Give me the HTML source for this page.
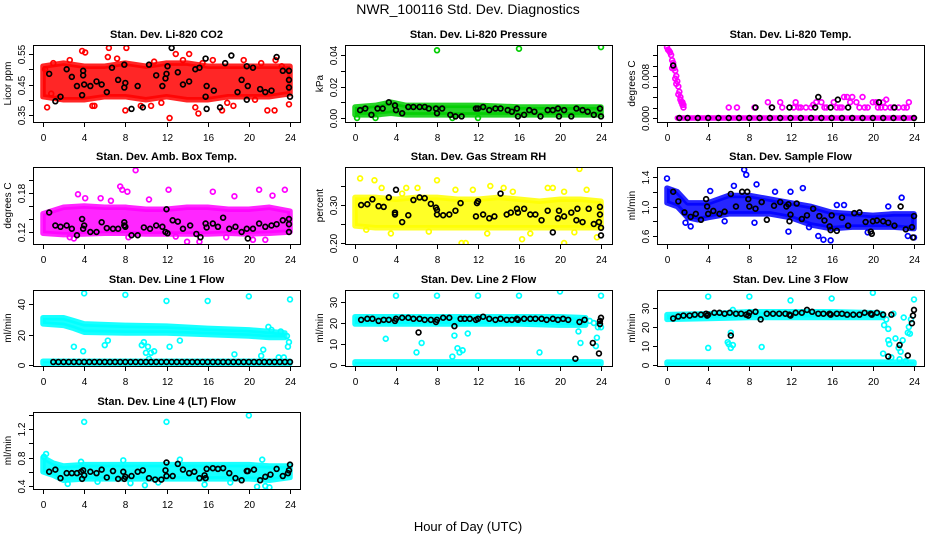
<!DOCTYPE html>
<html><head><meta charset="utf-8"><style>
body{margin:0;background:#fff}
svg{display:block;font-family:"Liberation Sans",sans-serif}
</style></head><body>
<svg id="chart" width="936" height="540" viewBox="0 0 936 540">
<text x="468" y="14" text-anchor="middle" font-size="14">NWR_100116  Std. Dev. Diagnostics</text>
<text x="468" y="531" text-anchor="middle" font-size="13">Hour of Day (UTC)</text>
</svg>
<script>
// ---- data arrays ----
const xTickValues=[0,4,8,12,16,20,24];
// CO2
const co2BandX=[0,2,4,6,8,10,12,14,16,18,20,22,24];
const co2BandLo=[0.41,0.40,0.40,0.41,0.41,0.40,0.41,0.40,0.40,0.41,0.41,0.41,0.42];
const co2BandHi=[0.51,0.52,0.51,0.51,0.52,0.51,0.52,0.52,0.51,0.51,0.51,0.51,0.51];
const co2Pts=[[0.4,0.375],[3.8,0.56],[4.1,0.555],[6.4,0.57],[6.3,0.54],[8.1,0.57],[8,0.365],[10.5,0.38],[12.3,0.34],[14.2,0.55],[15.1,0.355],[14.8,0.375],[17.4,0.365],[20.6,0.40],[21.8,0.365],[22.5,0.365],[22.6,0.53],[23.9,0.385],[2.6,0.53],[1,0.52],[5,0.38],[9.5,0.38],[16.5,0.53],[19.5,0.53],[12.9,0.55],[4.8,0.38],[0.2,0.5],[18.5,0.38],[11.5,0.39],[0.8,0.42],[1.5,0.405],[7.2,0.535],[10.8,0.525],[13.6,0.53],[15.5,0.52],[17.9,0.39],[21.2,0.52],[23.2,0.51]];
const co2Blk=[[0.6,0.485],[1.2,0.395],[1.7,0.41],[2.3,0.50],[2.8,0.475],[3.3,0.445],[3.8,0.415],[3.9,0.48],[3.9,0.495],[4,0.45],[4.6,0.445],[5.2,0.46],[5.7,0.45],[6.2,0.425],[6.7,0.505],[7.3,0.465],[7.9,0.515],[7.9,0.44],[8,0.455],[8.6,0.37],[9.2,0.445],[9.7,0.375],[10.3,0.515],[11,0.48],[11.6,0.445],[11.9,0.47],[12,0.485],[12.1,0.51],[12.5,0.57],[13.1,0.49],[13.6,0.45],[14.2,0.46],[14.8,0.5],[15.2,0.505],[15.8,0.535],[15.8,0.41],[15.9,0.445],[15.9,0.37],[16.6,0.43],[17.2,0.375],[17.7,0.52],[18.3,0.545],[18.9,0.425],[19.3,0.465],[19.8,0.40],[19.8,0.51],[19.9,0.445],[20.4,0.505],[21.1,0.435],[21.6,0.425],[22.2,0.43],[22.7,0.54],[23.3,0.495],[23.9,0.495],[23.9,0.465],[23.9,0.44],[24,0.41]];
// Pressure
const presBandX=[0,2,3.5,5,8,12,16,20,24];
const presBandLo=[0.002,0.002,0.003,0.002,0.002,0.002,0.002,0.002,0.002];
const presBandHi=[0.007,0.008,0.010,0.008,0.008,0.008,0.007,0.007,0.007];
const presPts=[[8,0.043],[16,0.044],[24,0.045],[0.2,0.0],[2,0.0],[9.5,0.0],[12,0.0]];
const presBlk=[[0.5,0.005],[1,0.006],[1.6,0.002],[2.2,0.006],[2.7,0.006],[3.3,0.010],[3.9,0.008],[4,0.005],[4.6,0.003],[5.2,0.007],[5.7,0.007],[6.3,0.007],[6.8,0.007],[7.2,0.006],[7.9,0.006],[8,0.003],[8.5,0.006],[9.3,0.002],[9.8,0.001],[10.4,0.001],[11.8,0.006],[12,0.006],[12.5,0.007],[13.1,0.005],[13.7,0.006],[14.2,0.006],[14.9,0.005],[15.3,0.004],[15.8,0.006],[15.9,0.001],[16.5,0.002],[17,0.005],[17.5,0.004],[18.1,0.001],[18.8,0.005],[19.3,0.005],[19.8,0.006],[19.9,0.001],[20.4,0.005],[21.1,0.001],[21.6,0.006],[22.2,0.005],[22.7,0.004],[23.3,0.002],[23.9,0.006],[24,0.001]];
// Li-820 Temp
const tempBandX=[1,24];
const tempBandLo=[0,0];
const tempBandHi=[0,0];
const tempPts=[[0,0.0135],[0.1,0.013],[0.2,0.0128],[0.3,0.0125],[0.4,0.012],[0.5,0.011],[0.6,0.0105],[0.7,0.0095],[0.8,0.009],[0.9,0.008],[1,0.007],[1.1,0.006],[1.2,0.005],[1.3,0.004],[1.4,0.003],[1.5,0.0025],[1.6,0.002],[1.1,0.0045],[0.8,0.0075],[1.5,0.003],[1.6,0.0025],[0.5,0.0095],[0.9,0.0065],[1.3,0.0035],[6,0.002],[6.8,0.002],[8.5,0.002],[9.8,0.003],[10.2,0.002],[11,0.003],[12.5,0.003],[12.3,0.002],[13,0.002],[14,0.002],[14.5,0.003],[15,0.003],[15.5,0.002],[16.2,0.003],[17.2,0.004],[17.5,0.004],[17.8,0.003],[18,0.004],[18.4,0.003],[19,0.004],[19.5,0.002],[20,0.003],[20.3,0.003],[21,0.003],[21.3,0.0035],[22,0.002],[23,0.002],[23.5,0.003],[13.5,0.002],[16.8,0.002],[18.7,0.002],[20.8,0.002],[21.7,0.002],[23.3,0.002],[14.2,0.0025],[15.3,0.002],[16.5,0.002],[17,0.002],[19.2,0.002],[20.5,0.002],[21.2,0.002],[22.5,0.002],[12.8,0.002],[11.2,0.002]];
const tempBlk=[[0.6,0.010],[8.6,0.002],[10.2,0.002],[11.9,0.002],[14.4,0.002],[14.7,0.004],[15.9,0.002],[16.6,0.0035],[17.6,0.002],[20.6,0.003],[22.1,0.002],[1.2,0],[2,0],[3,0],[4,0],[5,0],[6,0],[7,0],[8,0],[9,0],[10,0],[11,0],[12,0],[13,0],[14,0],[15,0],[16,0],[17,0],[18,0],[19,0],[20,0],[21,0],[22,0],[23,0],[24,0]];
// Amb box temp
const ambBandX=[0,2,4,6,8,10,12,14,16,18,20,22,24];
const ambBandLo=[0.118,0.116,0.117,0.118,0.118,0.117,0.117,0.117,0.117,0.118,0.117,0.118,0.12];
const ambBandHi=[0.148,0.158,0.16,0.158,0.158,0.155,0.155,0.158,0.158,0.155,0.155,0.158,0.152];
const ambPts=[[9,0.215],[7.5,0.19],[7.7,0.185],[21,0.185],[23.5,0.185],[12.2,0.185],[14,0.105],[15.2,0.105],[3,0.11],[2.6,0.112],[8.2,0.182],[16.5,0.182],[18.6,0.175],[20.4,0.108],[21.6,0.108],[12.9,0.113],[4.1,0.172],[3.4,0.178],[22.3,0.176],[10.3,0.17],[5.6,0.172],[6.6,0.168],[8.3,0.112],[17.8,0.112]];
const ambBlk=[[0.6,0.15],[1.2,0.13],[1.7,0.128],[2.3,0.13],[2.8,0.125],[3.3,0.115],[3.8,0.14],[3.9,0.125],[4,0.13],[4.6,0.12],[5.2,0.12],[5.7,0.135],[6.2,0.126],[6.8,0.125],[7.3,0.125],[7.9,0.135],[7.9,0.13],[8,0.128],[8.6,0.115],[9.2,0.115],[9.8,0.127],[10.4,0.125],[11,0.13],[11.6,0.128],[11.9,0.12],[12,0.155],[12.1,0.118],[12.6,0.138],[13.1,0.136],[13.6,0.125],[14.3,0.13],[14.9,0.117],[15.3,0.112],[15.8,0.133],[15.9,0.127],[16.5,0.133],[17.0,0.128],[17.5,0.142],[18.1,0.125],[18.7,0.128],[19.3,0.12],[19.8,0.125],[19.9,0.11],[20.4,0.125],[21.0,0.133],[21.6,0.128],[22.2,0.13],[22.7,0.132],[23.3,0.138],[23.9,0.14],[23.9,0.132],[23.9,0.12]];
// Gas stream RH
const rhBandX=[0,2,4,6,8,10,12,14,16,18,20,22,24];
const rhBandLo=[0.245,0.24,0.24,0.24,0.24,0.24,0.24,0.24,0.24,0.24,0.24,0.24,0.24];
const rhBandHi=[0.32,0.32,0.315,0.32,0.32,0.315,0.315,0.32,0.315,0.31,0.315,0.315,0.31];
const rhPts=[[0.5,0.37],[1.9,0.365],[1.1,0.235],[2.6,0.345],[8,0.365],[6.1,0.345],[21.9,0.395],[18.8,0.345],[19.3,0.345],[20.4,0.335],[22.6,0.34],[10.4,0.2],[20.4,0.2],[10.8,0.2],[16.3,0.21],[5,0.345],[14.5,0.345],[13.2,0.35],[23.6,0.215],[3.5,0.225],[7.2,0.23],[12.9,0.225],[17.1,0.225],[21.4,0.228],[9.8,0.34],[11.5,0.34],[15.4,0.335],[4.6,0.33]];
const rhBlk=[[0.6,0.3],[1.2,0.302],[1.7,0.315],[2.3,0.297],[2.8,0.295],[3.3,0.32],[3.9,0.28],[3.9,0.275],[4,0.34],[4.6,0.255],[5.2,0.273],[5.7,0.313],[6.3,0.32],[6.8,0.318],[7.4,0.303],[7.9,0.293],[8,0.287],[8,0.275],[8.6,0.273],[9.2,0.275],[9.8,0.285],[10.3,0.305],[11.8,0.27],[11.9,0.305],[12,0.31],[12.5,0.275],[13.1,0.265],[13.6,0.27],[14.2,0.33],[14.8,0.275],[15.2,0.28],[15.8,0.29],[15.9,0.28],[16.5,0.29],[17.1,0.275],[17.6,0.275],[18.2,0.26],[18.8,0.285],[19.3,0.228],[19.8,0.265],[19.9,0.285],[20.4,0.27],[21.1,0.28],[21.6,0.26],[21.7,0.29],[22.2,0.255],[22.8,0.29],[23.3,0.25],[23.8,0.255],[23.9,0.275],[23.9,0.295],[24,0.24],[24,0.22]];
// Sample flow
const flowBandX=[0,1,2,3,4,6,8,10,12,14,16,18,20,22,24];
const flowBandLo=[1.05,1.0,0.85,0.82,0.85,0.9,0.9,0.9,0.85,0.75,0.7,0.72,0.72,0.72,0.7];
const flowBandHi=[1.25,1.2,1.05,1.05,1.05,1.15,1.15,1.1,1.05,1.0,0.92,0.9,0.88,0.9,0.9];
const flowPts=[[0,1.38],[7.5,1.5],[7.7,1.43],[8.7,1.3],[6.5,1.28],[13.2,1.25],[22.8,1.12],[15.2,0.55],[15.9,0.54],[14.7,0.6],[11.8,0.66],[2.3,0.73],[8.5,0.78],[23.4,0.6],[24,0.58],[16.5,1.02],[17.2,1.02],[10.5,1.2],[12,1.2],[4.2,1.21],[5.6,0.8],[1.8,0.78],[13.8,0.72],[19.5,0.65],[21.5,1.0]];
const flowBlk=[[0.6,1.2],[1.1,1.07],[1.7,0.92],[2.3,0.86],[2.8,0.9],[3.3,0.82],[3.8,1.1],[3.9,1.0],[4,0.9],[4.5,0.94],[5.1,0.9],[5.6,0.93],[6.2,1.17],[6.7,1.0],[7.3,1.2],[7.8,1.2],[7.9,1.1],[8,1.0],[8.6,0.97],[9.2,1.06],[9.7,0.82],[10.4,1.01],[11.0,1.06],[11.6,1.0],[11.8,1.03],[11.9,0.8],[12.0,0.89],[12.6,1.04],[13.1,0.83],[13.6,0.88],[14.2,0.97],[14.8,0.87],[15.3,0.81],[15.8,0.73],[15.9,0.68],[16,0.88],[16.5,0.67],[17.0,0.85],[17.6,0.74],[18.2,0.91],[18.7,0.92],[19.3,0.79],[19.8,0.66],[19.9,0.63],[20.0,0.8],[20.4,0.81],[21.0,0.8],[21.5,0.78],[22.1,0.74],[22.7,1.0],[23.2,0.69],[23.8,0.72],[23.9,0.58],[24,0.87]];
// Line 1 flow
const l1BandX=[0,2,3,4,8,12,16,20,22,23.5];
const l1BandLo=[27,26,24,21.5,21,21,20,19,18,18];
const l1BandHi=[31,31,29,27,26,25.5,24,23,22,21];
const l1Band2X=[0,24];
const l1Band2Lo=[1,1];
const l1Band2Hi=[2.5,2.5];
const l1Pts=[[4,47],[8,46],[12,42],[16,42],[20,45],[24,43],[3,12],[3.9,9],[6,13],[6.3,16],[9.8,15],[9.6,13],[10.2,12],[10,8],[10.5,8],[10.8,9],[12.3,12],[13.3,16],[18.6,7],[21.2,6],[21.4,10],[21.9,25],[22.9,5],[23.4,5],[23.8,12],[23.9,15],[23.7,19],[10.3,4],[22.2,23],[23.1,22]];
const l1Blk=[[1,2],[1.5,2],[2,2],[2.5,2],[3,2],[3.5,2],[4,2],[4.5,2],[5,2],[5.5,2],[6,2],[6.5,2],[7,2],[7.5,2],[8,2],[8.5,2],[9,2],[9.5,2],[10,2],[10.5,2],[11,2],[11.5,2],[12,2],[12.5,2],[13,2],[13.5,2],[14,2],[14.5,2],[15,2],[15.5,2],[16,2],[16.5,2],[17,2],[17.5,2],[18,2],[18.5,2],[19,2],[19.5,2],[20,2],[20.5,2],[21,2],[21.5,2],[22,2],[22.5,2],[23,2],[23.5,2],[24,2]];
// Line 2 flow
const l2BandX=[0,4,8,12,16,20,22.5];
const l2BandLo=[19.5,19.5,19.5,19.5,19.5,19,19];
const l2BandHi=[23,23,23,23,23,23,22.5];
const l2Band2X=[0,24];
const l2Band2Lo=[0.5,0.5];
const l2Band2Hi=[1.5,1.5];
const l2Pts=[[4,33],[8,33],[12,33],[16,33],[20,35],[24,33],[3,12.5],[6,6],[6.5,10.5],[18,6],[21.8,16],[22,10.5],[23.5,9],[23.6,13],[23.7,18],[9.5,4],[10,8],[10.2,6],[10.5,7],[9.7,14],[11,15],[22.9,21],[23.3,20],[24,18]];
const l2Blk=[[0.6,21.5],[1.2,22],[1.7,22],[2.3,21],[2.8,21.5],[3.3,21.5],[3.9,21],[4,22],[4.6,22.5],[5.2,22.5],[5.7,22],[6.2,15.5],[6.3,22],[6.8,21.5],[7.4,21.5],[7.9,20.5],[8,21.5],[8.6,22.5],[9.2,22.5],[9.7,18.5],[10.3,22],[10.7,22],[11.2,22],[11.8,21.5],[12.0,22],[12.5,23],[13.1,22],[13.7,21.5],[14.2,22],[14.8,21.5],[15.3,21.5],[15.8,22],[15.9,21.5],[16.5,22],[17.1,22],[17.6,22],[18.2,22],[18.7,21.5],[19.3,22],[19.8,21.5],[20.3,22],[20.8,21.5],[21.5,3],[21.9,20.5],[22.4,21.5],[23.2,10.5],[23.8,5.5],[23.9,19.5],[23.9,21],[24,22.5]];
// Line 3 flow
const l3BandX=[0,4,8,12,16,20,21];
const l3BandLo=[24,24.5,25,25,25,25,25];
const l3BandHi=[26.5,27,28,28,28,27.5,27];
const l3Band2X=[0,24];
const l3Band2Lo=[0.5,0.5];
const l3Band2Hi=[1.5,1.5];
const l3Pts=[[4,36],[8,36],[12,34],[16,35],[20,38],[24,34.5],[4,9],[6,11],[6.2,9],[6.4,10.5],[9.2,9.5],[6.2,17],[5.9,12],[21.1,21],[21.5,19],[21.5,13],[21.6,11],[22.2,14],[22.5,9],[22.7,7],[23.4,17],[23.6,16.5],[23.5,20],[21,6],[22.9,13],[21.8,4],[6.4,29],[21.3,24],[22.0,27],[23.0,25],[23.7,24],[22.6,3],[23.2,2]];
const l3Blk=[[0.6,24.5],[1.1,25.5],[1.6,26],[2.2,26],[2.7,26.5],[3.3,26.5],[3.8,27],[3.9,26],[4,26.5],[4.6,27.5],[5.1,27.5],[5.6,27],[6.1,27.5],[6.2,15.5],[6.7,27],[7.2,27],[7.7,26.5],[7.9,26],[8,27.5],[8.6,28],[9.1,24],[9.7,27],[10.3,27],[10.9,27],[11.5,27],[11.9,26.5],[12,26],[12.5,27.5],[13.1,27.5],[13.6,29],[14.1,28],[14.7,27],[15.2,27],[15.8,27],[15.9,26.5],[16.5,27],[17.0,27],[17.5,26.5],[18.1,26.5],[18.7,26.5],[19.2,27.5],[19.8,27],[19.9,26.5],[20.4,27.5],[21,26.5],[21.5,4.5],[21.8,26.5],[22.6,10.5],[23.4,5],[23.8,22],[23.9,26],[24,29]];
// Line 4 flow
const l4BandX=[0,1,2,4,8,12,16,20,22,24];
const l4BandLo=[0.6,0.55,0.48,0.5,0.5,0.5,0.5,0.5,0.48,0.52];
const l4BandHi=[0.8,0.72,0.68,0.7,0.7,0.7,0.7,0.7,0.68,0.68];
const l4Pts=[[4,1.3],[12,1.3],[20,1.39],[0.3,0.85],[0.1,0.81],[21.3,0.77],[20.8,0.39],[21.6,0.4],[22,0.38],[9.9,0.41],[15.7,0.42],[7.8,0.76],[3.7,0.74],[13.3,0.77],[8.5,0.44],[2.4,0.43],[5.3,0.46],[11.2,0.45],[18.2,0.45]];
const l4Blk=[[0.6,0.6],[1.2,0.63],[1.7,0.51],[2.3,0.58],[2.8,0.58],[3.3,0.58],[3.7,0.6],[3.8,0.5],[3.9,0.62],[4,0.55],[4.6,0.6],[5.2,0.58],[5.7,0.63],[6.2,0.52],[6.8,0.61],[7.3,0.5],[7.8,0.6],[7.9,0.5],[8,0.53],[8.6,0.54],[9.2,0.6],[9.7,0.62],[10.3,0.51],[10.9,0.49],[11.5,0.49],[11.9,0.62],[12,0.73],[12,0.54],[12.6,0.54],[13.1,0.71],[13.6,0.63],[14.2,0.58],[14.7,0.6],[15.2,0.51],[15.7,0.55],[15.8,0.51],[15.9,0.64],[16.5,0.65],[17.0,0.64],[17.5,0.65],[18.1,0.58],[18.7,0.51],[19.3,0.48],[19.8,0.61],[19.9,0.61],[20.5,0.63],[21.1,0.48],[21.6,0.53],[22.1,0.56],[22.7,0.64],[23.3,0.54],[23.8,0.58],[23.9,0.62],[24,0.7]];
// y tick values & labels
const co2Ticks=[0.35,0.40,0.45,0.50,0.55], co2Labels=["0.35","","0.45","","0.55"];
const presTicks=[0,0.01,0.02,0.03,0.04], presLabels=["0.00","","0.02","","0.04"];
const tempTicks=[0,0.002,0.004,0.006,0.008,0.010,0.012], tempLabels=["0.000","","","","0.008","",""];
const ambTicks=[0.12,0.14,0.16,0.18,0.20], ambLabels=["0.12","","","0.18",""];
const rhTicks=[0.20,0.25,0.30,0.35], rhLabels=["0.20","","0.30",""];
const flowTicks=[0.6,0.8,1.0,1.2,1.4], flowLabels=["0.6","","1.0","","1.4"];
const l1Ticks=[0,20,40], l1Labels=["0","20","40"];
const l2Ticks=[0,10,20,30], l2Labels=["0","10","20","30"];
const l3Ticks=[0,10,20,30], l3Labels=["0","10","20","30"];
const l4Ticks=[0.4,0.6,0.8,1.0,1.2,1.4], l4Labels=["0.4","","0.8","","1.2",""];

// ---- layout (not data) ----
const cols=[{L:33,R:300,x0:43,x24:290},{L:345,R:612,x0:355,x24:601},{L:657,R:924,x0:667,x24:914}];
const rows=[{T:45,B:122},{T:167,B:244},{T:290,B:366},{T:412,B:489}];
const panels=[
 {id:'co2',t:'Stan. Dev. Li-820 CO2',yl:'Licor ppm',c:0,r:0,col:'#ff0000',cal:[0.35,115,0.55,54],bx:co2BandX,lo:co2BandLo,hi:co2BandHi,pts:co2Pts,blk:co2Blk,ticks:co2Ticks,labels:co2Labels,op:0.85},
 {id:'pressure',t:'Stan. Dev. Li-820 Pressure',yl:'kPa',c:1,r:0,col:'#00cc00',cal:[0,118,0.04,55],bx:presBandX,lo:presBandLo,hi:presBandHi,pts:presPts,blk:presBlk,ticks:presTicks,labels:presLabels,op:0.85},
 {id:'li820-temp',t:'Stan. Dev. Li-820 Temp.',yl:'degrees C',c:2,r:0,col:'#ff00ff',cal:[0,118,0.008,76],bx:tempBandX,lo:tempBandLo,hi:tempBandHi,pts:tempPts,blk:tempBlk,ticks:tempTicks,labels:tempLabels,op:1},
 {id:'amb-box-temp',t:'Stan. Dev. Amb. Box Temp.',yl:'degrees C',c:0,r:1,col:'#ff00ff',cal:[0.12,232,0.18,193],bx:ambBandX,lo:ambBandLo,hi:ambBandHi,pts:ambPts,blk:ambBlk,ticks:ambTicks,labels:ambLabels,op:0.85},
 {id:'gas-stream-rh',t:'Stan. Dev. Gas Stream RH',yl:'percent',c:1,r:1,col:'#ffff00',cal:[0.2,243,0.3,205],bx:rhBandX,lo:rhBandLo,hi:rhBandHi,pts:rhPts,blk:rhBlk,ticks:rhTicks,labels:rhLabels,op:0.85},
 {id:'sample-flow',t:'Stan. Dev. Sample Flow',yl:'ml/min',c:2,r:1,col:'#0000ff',cal:[0.6,236,1.4,177],bx:flowBandX,lo:flowBandLo,hi:flowBandHi,pts:flowPts,blk:flowBlk,ticks:flowTicks,labels:flowLabels,op:0.85},
 {id:'line1-flow',t:'Stan. Dev. Line 1 Flow',yl:'ml/min',c:0,r:2,col:'#00ffff',cal:[0,365,40,304],bx:l1BandX,lo:l1BandLo,hi:l1BandHi,bx2:l1Band2X,lo2:l1Band2Lo,hi2:l1Band2Hi,pts:l1Pts,blk:l1Blk,ticks:l1Ticks,labels:l1Labels,op:0.9},
 {id:'line2-flow',t:'Stan. Dev. Line 2 Flow',yl:'ml/min',c:1,r:2,col:'#00ffff',cal:[0,365,30,302],bx:l2BandX,lo:l2BandLo,hi:l2BandHi,bx2:l2Band2X,lo2:l2Band2Lo,hi2:l2Band2Hi,pts:l2Pts,blk:l2Blk,ticks:l2Ticks,labels:l2Labels,op:0.9},
 {id:'line3-flow',t:'Stan. Dev. Line 3 Flow',yl:'ml/min',c:2,r:2,col:'#00ffff',cal:[0,365,30,308],bx:l3BandX,lo:l3BandLo,hi:l3BandHi,bx2:l3Band2X,lo2:l3Band2Lo,hi2:l3Band2Hi,pts:l3Pts,blk:l3Blk,ticks:l3Ticks,labels:l3Labels,op:0.9},
 {id:'line4-flow',t:'Stan. Dev. Line 4 (LT) Flow',yl:'ml/min',c:0,r:3,col:'#00ffff',cal:[0.4,486,1.2,429],bx:l4BandX,lo:l4BandLo,hi:l4BandHi,pts:l4Pts,blk:l4Blk,ticks:l4Ticks,labels:l4Labels,op:0.9}
];
const NS='http://www.w3.org/2000/svg';
const svg=document.getElementById('chart');
function mk(tag,attrs,parent){const e=document.createElementNS(NS,tag);for(const k in attrs)e.setAttribute(k,attrs[k]);(parent||svg).appendChild(e);return e;}

panels.forEach(p=>{
  const C=cols[p.c], R=rows[p.r];
  const sx=h=>C.x0+h/24*(C.x24-C.x0);
  const sy=v=>p.cal[1]+(v-p.cal[0])*(p.cal[3]-p.cal[1])/(p.cal[2]-p.cal[0]);
  const g=mk('g',{});
  
  
  const cp=mk('clipPath',{id:'clip-'+p.id},g);
  mk('rect',{x:C.L,y:R.T,width:C.R-C.L,height:R.B-R.T},cp);
  const plot=mk('g',{'clip-path':'url(#clip-'+p.id+')'},g);
  
  
  function band(bx,lo,hi,nm){
    let d='M'+bx.map((h,i)=>sx(h)+','+sy(hi[i])).join('L');
    d+='L'+bx.map((h,i)=>sx(h)+','+sy(lo[i])).reverse().join('L')+'Z';
    const b=mk('path',{d:d,fill:p.col,stroke:p.col,'stroke-width':5.5,'stroke-linejoin':'round','fill-opacity':p.op,'stroke-opacity':p.op},plot);
    
    
  }
  band(p.bx,p.lo,p.hi,p.id+'-band');
  if(p.bx2) band(p.bx2,p.lo2,p.hi2,p.id+'-baseline-band');
  p.pts.forEach(pt=>{
    const c=mk('circle',{cx:sx(pt[0]),cy:sy(pt[1]),r:2.4,fill:'none',stroke:p.col,'stroke-width':1.7},plot);
    
    
  });
  p.blk.forEach(pt=>{
    const c=mk('circle',{cx:sx(pt[0]),cy:sy(pt[1]),r:2.4,fill:'none',stroke:'#000','stroke-width':1.7},plot);
    
    
  });
  const box=mk('rect',{x:C.L+0.5,y:R.T+0.5,width:C.R-C.L,height:R.B-R.T,fill:'none',stroke:'#000','stroke-width':1},g);
  
  
  const title=mk('text',{x:(C.L+C.R)/2,y:R.T-7,'text-anchor':'middle','font-size':11,'font-weight':'bold'},g);
  title.textContent=p.t;
  
  
  xTickValues.forEach(h=>{
    const x=Math.round(sx(h))+0.5;
    const tk=mk('line',{x1:x,x2:x,y1:R.B+0.5,y2:R.B+5,stroke:'#000'},g);
    
    
    const lb=mk('text',{x:x,y:R.B+19,'text-anchor':'middle','font-size':10},g);
    lb.textContent=h;
    
    
  });
  p.ticks.forEach((v,i)=>{
    const y=Math.round(sy(v))+0.5;
    const tk=mk('line',{x1:C.L-4,x2:C.L+0.5,y1:y,y2:y,stroke:'#000'},g);
    
    
    if(p.labels[i]){
      const lx=C.L-8;
      const lb=mk('text',{x:lx,y:y,'text-anchor':'middle','font-size':10,transform:'rotate(-90 '+lx+' '+y+')'},g);
      lb.textContent=p.labels[i];
      
      
    }
  });
  const yx=C.L-22, yy=(R.T+R.B)/2;
  const yt=mk('text',{x:yx,y:yy,'text-anchor':'middle','font-size':10,transform:'rotate(-90 '+yx+' '+yy+')'},g);
  yt.textContent=p.yl;
  
  
});
</script>
</body></html>
